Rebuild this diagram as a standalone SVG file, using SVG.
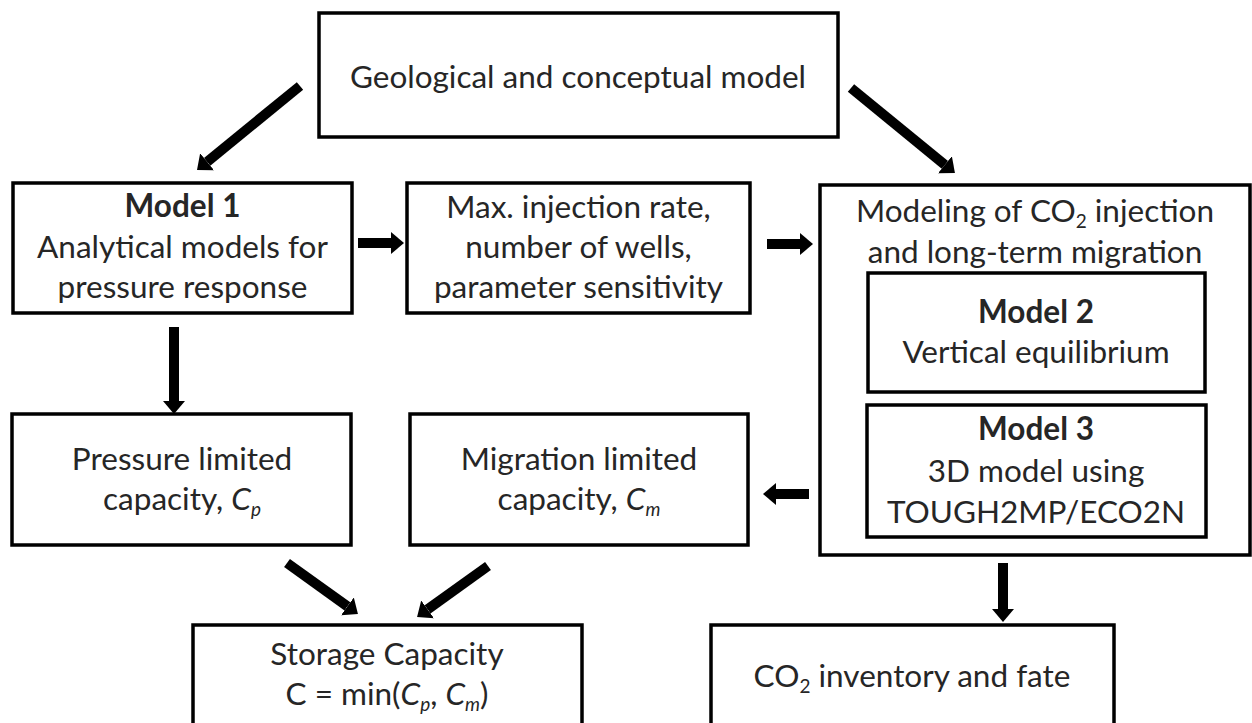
<svg xmlns="http://www.w3.org/2000/svg" width="1252" height="723" viewBox="0 0 1252 723">
<style>
.box{fill:#fff;stroke:#000;stroke-width:3.5}
.t{font-family:Lato,"Open Sans","Liberation Sans",sans-serif;font-size:31.5px;fill:#262626;text-anchor:middle}
.b{font-weight:bold}
.i{font-style:italic}
.s{font-size:19px}
.arr{stroke:#000;stroke-width:10;fill:none;marker-end:url(#ah)}
</style>
<defs>
<marker id="ah" viewBox="0 0 13 22" refX="0" refY="11" markerUnits="userSpaceOnUse" markerWidth="13" markerHeight="22" orient="auto">
<path d="M0,0 L13,11 L0,22 Z" fill="#000"/>
</marker>
</defs>
<rect width="1252" height="723" fill="#fff"/>
<g id="geo">
<rect class="box" x="319" y="13" width="519" height="124"/>
<text class="t" x="578" y="88">Geological and conceptual model</text>
</g>
<g id="model1">
<rect class="box" x="13" y="183" width="339" height="130"/>
<text class="t b" x="182.5" y="217">Model 1</text>
<text class="t" x="182.5" y="258">Analytical models for</text>
<text class="t" x="182.5" y="298">pressure response</text>
</g>
<g id="maxrate">
<rect class="box" x="407" y="183" width="343" height="130"/>
<text class="t" x="578.5" y="218">Max. injection rate,</text>
<text class="t" x="578.5" y="258">number of wells,</text>
<text class="t" x="578.5" y="298">parameter sensitivity</text>
</g>
<g id="modeling">
<rect class="box" x="820" y="185" width="430" height="370"/>
<text class="t" x="1035" y="222">Modeling of CO<tspan class="s" dy="6">2</tspan><tspan dy="-6"> injection</tspan></text>
<text class="t" x="1035" y="263">and long-term migration</text>
</g>
<g id="model2">
<rect class="box" x="868" y="273" width="337" height="119"/>
<text class="t b" x="1036" y="323">Model 2</text>
<text class="t" x="1036" y="363">Vertical equilibrium</text>
</g>
<g id="model3">
<rect class="box" x="867" y="405" width="339" height="132"/>
<text class="t b" x="1036" y="440">Model 3</text>
<text class="t" x="1036" y="482">3D model using</text>
<text class="t" x="1036" y="523">TOUGH2MP/ECO2N</text>
</g>
<g id="pressure">
<rect class="box" x="12" y="414" width="339" height="131"/>
<text class="t" x="182" y="470">Pressure limited</text>
<text class="t" x="182" y="510">capacity, <tspan class="i">C</tspan><tspan class="i s" dy="6">p</tspan></text>
</g>
<g id="migration">
<rect class="box" x="410" y="414" width="338" height="131"/>
<text class="t" x="579" y="470">Migration limited</text>
<text class="t" x="579" y="510">capacity, <tspan class="i">C</tspan><tspan class="i s" dy="6">m</tspan></text>
</g>
<g id="storage">
<rect class="box" x="193" y="625" width="389" height="120"/>
<text class="t" x="387" y="665">Storage Capacity</text>
<text class="t" x="387" y="705">C = min(<tspan class="i">C</tspan><tspan class="i s" dy="6">p</tspan><tspan dy="-6">, </tspan><tspan class="i">C</tspan><tspan class="i s" dy="6">m</tspan><tspan dy="-6">)</tspan></text>
</g>
<g id="inventory">
<rect class="box" x="711" y="625" width="403" height="120"/>
<text class="t" x="912" y="687">CO<tspan class="s" dy="6">2</tspan><tspan dy="-6"> inventory and fate</tspan></text>
</g>
<g id="connectors">
<line class="arr" x1="300" y1="86" x2="207.1" y2="161.8"/>
<line class="arr" x1="851" y1="88" x2="944.9" y2="164.8"/>
<line class="arr" x1="358" y1="243" x2="391" y2="243"/>
<line class="arr" x1="767" y1="244" x2="800" y2="244"/>
<line class="arr" x1="174" y1="327" x2="174" y2="401"/>
<line class="arr" x1="809" y1="494" x2="776" y2="494"/>
<line class="arr" x1="1003" y1="563" x2="1003" y2="609"/>
<line class="arr" x1="287" y1="563" x2="347.4" y2="606.4"/>
<line class="arr" x1="488" y1="566" x2="427.6" y2="609.4"/>
</g>
</svg>
